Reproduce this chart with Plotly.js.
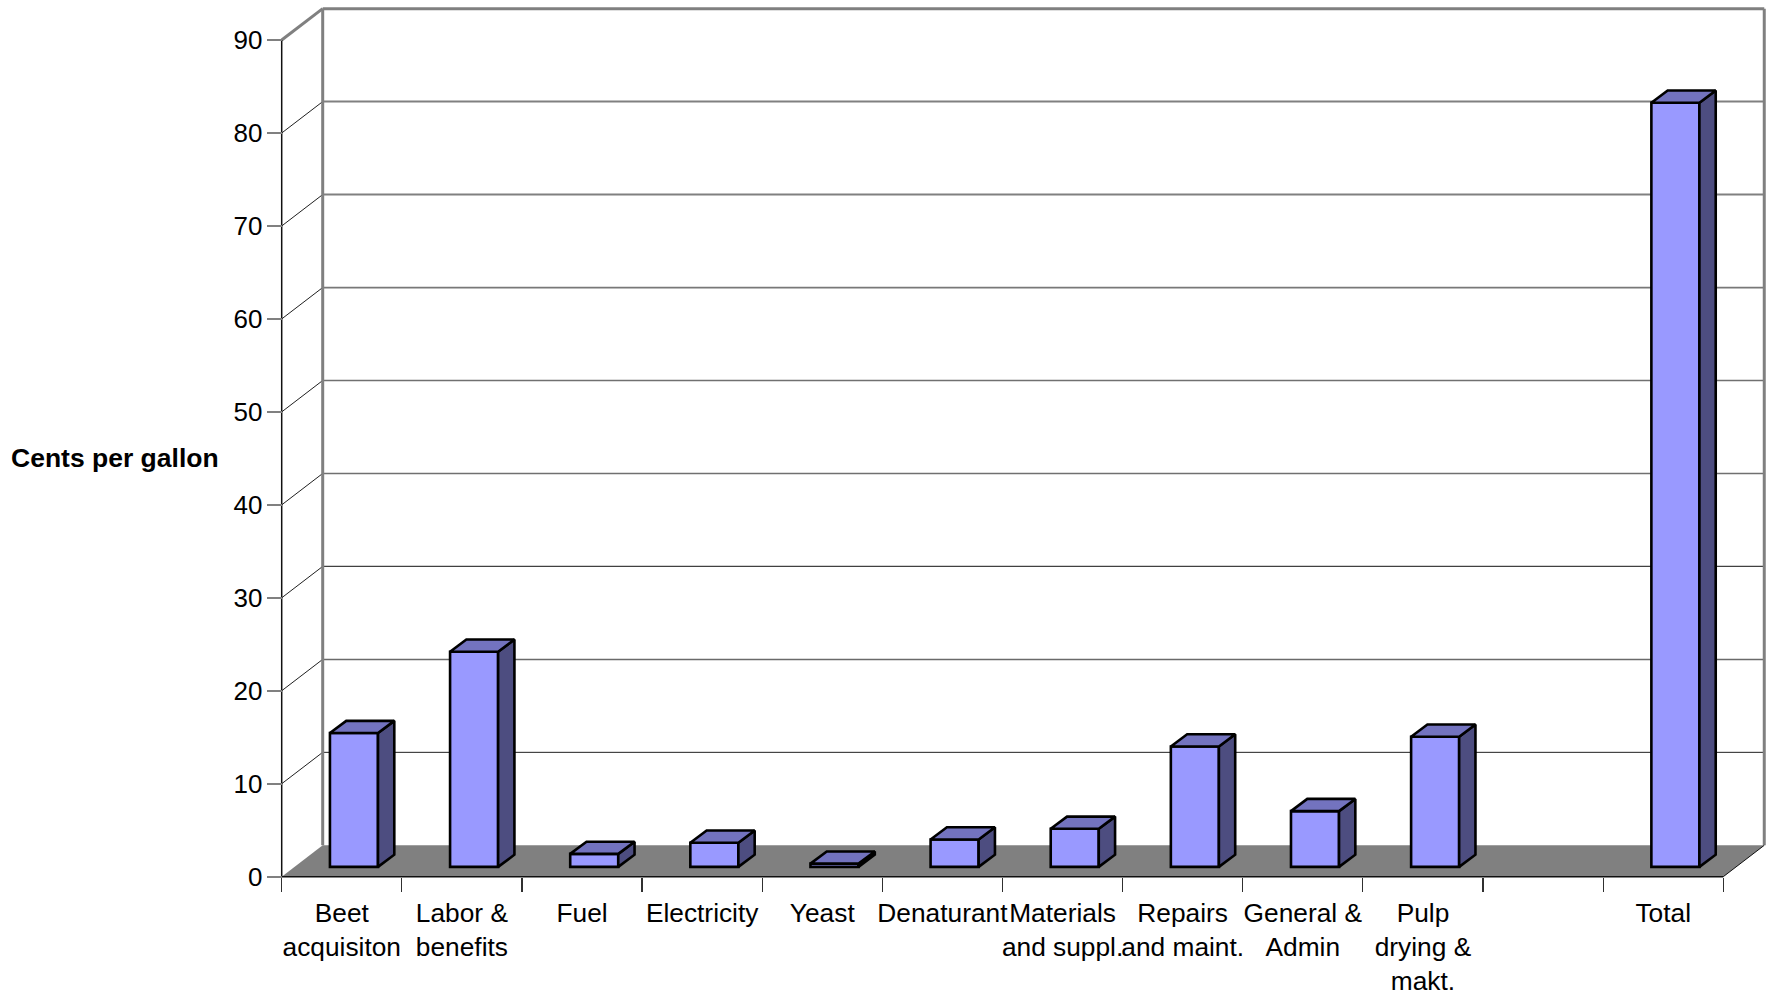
<!DOCTYPE html>
<html>
<head>
<meta charset="utf-8">
<script src="https://cdn.plot.ly/plotly-3.0.1.min.js"></script>
<style>html,body{margin:0;padding:0;background:#fff;overflow:hidden}#chart{width:1771px;height:995px}</style>
</head>
<body>
<div id="chart"></div>
<script>
// Ethanol production cost breakdown, drawn as an oblique 3D column chart.
const categories = ['Beet<br>acquisiton', 'Labor &<br>benefits', 'Fuel', 'Electricity', 'Yeast', 'Denaturant',
  'Materials<br>and suppl.', 'Repairs<br>and maint.', 'General &<br>Admin', 'Pulp<br>drying &<br>makt.', '', 'Total'];
const centsPerGallon = [14.4, 23.15, 1.4, 2.6, 0.35, 2.95, 4.1, 12.95, 6.0, 14.0, null, 82.2];
const yTicks = [0, 10, 20, 30, 40, 50, 60, 70, 80, 90];

// Pixel scale of the axes: canvas is 1771x995, origin of the front plane at (281.7, 876.7).
const W = 1771, H = 995, X0 = 281.7, Y0 = 876.7, PX_X = 120.13, PX_Y = 9.296;
const xRange = [-X0 / PX_X, (W - X0) / PX_X];
const yRange = [(Y0 - H) / PX_Y, Y0 / PX_Y];

// Oblique depth of the whole floor, and of a column, in axis units.
const DX = 41 / PX_X, DY = 31.4 / PX_Y;
const colW = 0.4, colStartX = 12.2 / PX_X, colStartY = 9.8 / PX_Y, colDX = 16.3 / PX_X, colDY = 12.2 / PX_Y;

const GREY = '#808080', FRONT = '#9999FF', SIDE = '#4D4D80', TOP = '#7373BF';
const family = 'Liberation Sans, Arial, sans-serif';
const xFont = {family, size: 26.3, color: '#000'};
const yFont = {family, size: 26, color: '#000'};

// Back-wall gridline weights by axis value.
const gridStyle = {10: ['#202020', 1], 20: ['#6a6a6a', 1.5], 30: ['#404040', 1.2], 40: ['#707070', 1.5],
  50: ['#707070', 1.5], 60: ['#787878', 1.8], 70: ['#808080', 2], 80: ['#808080', 2], 90: [GREY, 3]};

const line = (x0, y0, x1, y1, color, width) => ({type: 'line', xref: 'x', yref: 'y', layer: 'below',
  x0, y0, x1, y1, line: {color, width}});

const shapes = [];
// Floor
shapes.push({type: 'path', xref: 'x', yref: 'y', layer: 'below', fillcolor: GREY, line: {width: 0},
  path: `M0,0L${DX},${DY}L${12 + DX},${DY}L12,0Z`});
// Gridlines on the side and back walls
yTicks.forEach(v => {
  if (v === 0) return;
  const top = v === 90;
  shapes.push(line(0, v, DX, v + DY, top ? GREY : '#202020', top ? 3 : 1));
  shapes.push(line(DX, v + DY, 12 + DX, v + DY, gridStyle[v][0], gridStyle[v][1]));
});
// Wall edges and front axis lines
shapes.push(line(DX, DY, DX, 90 + DY, GREY, 3));
shapes.push(line(12 + DX, DY, 12 + DX, 90 + DY, GREY, 3));
shapes.push(line(0, 0, 0, 90, '#101010', 1.5));
shapes.push(line(0, 0, 12, 0, '#101010', 1.5));
shapes.push(line(12, 0, 12 + DX, DY, '#101010', 1));

// Column faces
const xs = categories.map((_, i) => i + 0.5 + colStartX);
const sideX = [], sideY = [], topX = [], topY = [];
centsPerGallon.forEach((v, i) => {
  if (v === null) return;
  const r = xs[i] + colW / 2, l = xs[i] - colW / 2, b = colStartY, t = colStartY + v;
  sideX.push(r, r + colDX, r + colDX, r, r, null);
  sideY.push(b, b + colDY, t + colDY, t, b, null);
  topX.push(l, l + colDX, r + colDX, r, l, null);
  topY.push(t, t + colDY, t + colDY, t, t, null);
});
const edge = {color: '#000', width: 2.6};

const traces = [
  {type: 'bar', x: xs, y: centsPerGallon, base: colStartY, width: colW,
   marker: {color: FRONT, line: {color: '#000', width: 2.6}}, hoverinfo: 'skip'},
  {type: 'scatter', mode: 'lines', x: sideX, y: sideY, fill: 'toself', fillcolor: SIDE, line: edge, hoverinfo: 'skip'},
  {type: 'scatter', mode: 'lines', x: topX, y: topY, fill: 'toself', fillcolor: TOP, line: edge, hoverinfo: 'skip'}
];

const layout = {
  width: W, height: H, margin: {l: 0, r: 0, t: 0, b: 0, pad: 0},
  paper_bgcolor: '#fff', plot_bgcolor: '#fff', showlegend: false,
  xaxis: {
    range: xRange, autorange: false, anchor: 'free', position: (H - Y0) / H,
    tickmode: 'array', tickvals: categories.map((_, i) => i + 0.5), ticktext: categories,
    ticks: '', tickangle: 0, ticklabelstandoff: 18, tickfont: xFont, showgrid: false, zeroline: false, showline: false,
    minor: {tickmode: 'array', tickvals: categories.map((_, i) => i).concat(categories.length),
            ticks: 'outside', ticklen: 14, tickwidth: 1.2, tickcolor: '#303030', showgrid: false}
  },
  yaxis: {
    range: yRange, autorange: false, anchor: 'free', position: X0 / W,
    tickmode: 'array', tickvals: yTicks, ticks: 'outside', ticklen: 15, tickwidth: 2, tickcolor: GREY,
    ticklabelstandoff: -1, tickfont: yFont, showgrid: false, zeroline: false, showline: false
  },
  shapes,
  annotations: [{text: '<b>Cents per gallon</b>', xref: 'paper', yref: 'paper', x: 8.5 / W, y: 1 - 458 / H,
    xanchor: 'left', yanchor: 'middle', showarrow: false, font: {family, size: 26.5, color: '#000'}}]
};

Plotly.newPlot('chart', traces, layout, {displayModeBar: false, staticPlot: true});
</script>
</body>
</html>
